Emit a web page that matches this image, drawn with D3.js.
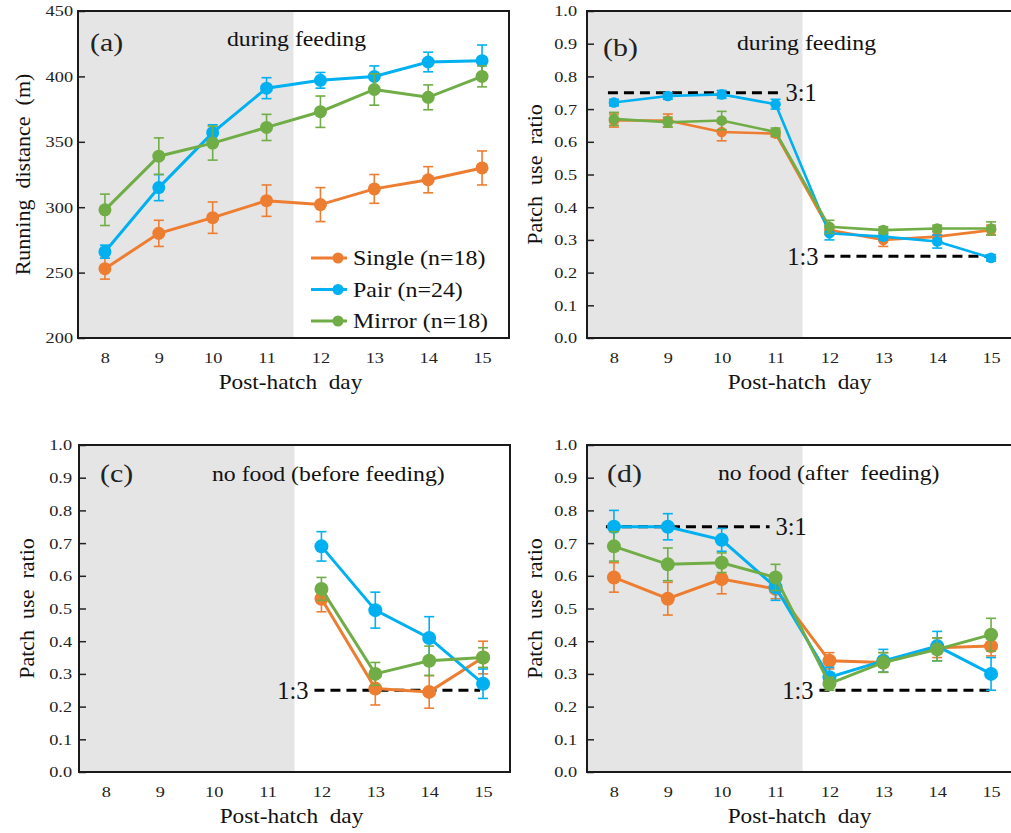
<!DOCTYPE html>
<html><head><meta charset="utf-8">
<script src="https://cdn.jsdelivr.net/npm/d3@7"></script>
<style>
html,body{margin:0;padding:0;background:#fff;overflow:hidden;}
svg{display:block;font-family:"Liberation Serif","Times New Roman",serif;}
</style></head><body>
<svg id="chart" width="1011" height="833"></svg>
<script>
// ---- data ----
const days = [8, 9, 10, 11, 12, 13, 14, 15];
const daysAfterSwitch = [12, 13, 14, 15];
const groupNames = ["Single (n=18)", "Pair (n=24)", "Mirror (n=18)"];
const groupColors = ["#ED7D31", "#00B0F0", "#70AD47"];
const distanceTicks = [200, 250, 300, 350, 400, 450];
const ratioTicks = [0, 0.1, 0.2, 0.3, 0.4, 0.5, 0.6, 0.7, 0.8, 0.9, 1.0];

// (a) running distance (m), mean ± SE
const runSingle   = [253, 280, 292, 305, 302, 314, 321, 330];
const runSingleSE = [8, 10, 12, 12, 13, 11, 10, 13];
const runPair     = [266, 315, 357, 391, 397, 400, 411, 412];
const runPairSE   = [5, 10, 6, 8, 6, 8, 7.5, 12];
const runMirror   = [298, 339, 349, 361, 373, 390, 384, 400];
const runMirrorSE = [12, 14, 13, 10, 12, 12, 9.5, 8];

// (b) patch use ratio during feeding
const feedSingle   = [0.665, 0.665, 0.63, 0.625, 0.33, 0.30, 0.31, 0.33];
const feedSingleSE = [0.02, 0.02, 0.027, 0.01, 0.015, 0.02, 0.015, 0.015];
const feedPair     = [0.72, 0.74, 0.745, 0.715, 0.32, 0.31, 0.295, 0.245];
const feedPairSE   = [0.01, 0.01, 0.012, 0.015, 0.02, 0.01, 0.02, 0.01];
const feedMirror   = [0.67, 0.66, 0.665, 0.63, 0.34, 0.33, 0.335, 0.335];
const feedMirrorSE = [0.02, 0.015, 0.028, 0.012, 0.02, 0.01, 0.01, 0.02];

// (c) no food, before feeding (days 12–15 only)
const preSingle   = [0.53, 0.255, 0.245, 0.35];
const preSingleSE = [0.04, 0.05, 0.05, 0.05];
const prePair     = [0.69, 0.495, 0.41, 0.27];
const prePairSE   = [0.045, 0.055, 0.065, 0.045];
const preMirror   = [0.56, 0.30, 0.34, 0.35];
const preMirrorSE = [0.035, 0.035, 0.045, 0.03];

// (d) no food, after feeding
const postSingle   = [0.595, 0.53, 0.59, 0.56, 0.34, 0.335, 0.38, 0.385];
const postSingleSE = [0.045, 0.05, 0.045, 0.03, 0.025, 0.03, 0.03, 0.03];
const postPair     = [0.75, 0.75, 0.71, 0.565, 0.29, 0.34, 0.385, 0.30];
const postPairSE   = [0.05, 0.04, 0.035, 0.04, 0.03, 0.035, 0.045, 0.05];
const postMirror   = [0.69, 0.635, 0.64, 0.595, 0.27, 0.335, 0.375, 0.42];
const postMirrorSE = [0.045, 0.05, 0.03, 0.04, 0.02, 0.03, 0.035, 0.05];

// preference reference levels
const ratio31 = 0.75, ratio13 = 0.25;

// ---- helpers ----
const svg = d3.select("#chart");
const W = 431, H = 327;

// widen text horizontally around its anchor point
function widen(sel, sx) {
  sel.each(function () {
    const t = d3.select(this);
    const x = +t.attr("x") || 0;
    t.attr("transform", `translate(${x * (1 - sx)},0) scale(${sx},1)`);
  });
}

function panel(cfg) {
  const g = svg.append("g").attr("transform", `translate(${cfg.left},${cfg.top})`);
  const x = d3.scalePoint().domain(days).range([0, W]).padding(0.5);
  const y = d3.scaleLinear().domain(cfg.yDomain).range([H, 0]);

  // shaded switch period, days 8–11
  const xSplit = (x(11) + x(12)) / 2;
  g.append("rect").attr("x", 0).attr("y", 0).attr("width", xSplit).attr("height", H)
    .attr("fill", "#E5E5E5");

  // axes
  const yAxis = d3.axisLeft(y).tickValues(cfg.yTicks).tickFormat(cfg.yFormat)
    .tickSizeInner(-7).tickSizeOuter(0).tickPadding(cfg.yPad);
  const ya = g.append("g").call(yAxis);
  ya.select(".domain").remove();
  ya.selectAll("line").attr("stroke", "#222").attr("stroke-width", 1.5);
  ya.selectAll("text").attr("font-size", 15.5).attr("fill", "#222")
    .attr("font-family", "Liberation Serif");
  widen(ya.selectAll("text"), 1.18);

  const xAxis = d3.axisBottom(x).tickSize(0).tickPadding(14);
  const xa = g.append("g").attr("transform", `translate(0,${H})`).call(xAxis);
  xa.select(".domain").remove();
  xa.selectAll("text").attr("font-size", 15.5).attr("fill", "#222")
    .attr("font-family", "Liberation Serif");
  widen(xa.selectAll("text"), 1.18);

  // plot frame
  g.append("rect").attr("x", 0).attr("y", 0).attr("width", W).attr("height", H)
    .attr("fill", "none").attr("stroke", "#1a1a1a").attr("stroke-width", 2);

  // axis titles
  g.append("text")
    .attr("transform", `translate(${cfg.yTitleX},${H / 2}) rotate(-90)`)
    .attr("text-anchor", "middle").attr("dominant-baseline", "central")
    .attr("font-size", 22).attr("fill", "#111").style("white-space", "pre")
    .text(cfg.yTitle);
  g.append("text")
    .attr("transform", `translate(${W / 2 - 3},${H + 51}) scale(1.06,1)`)
    .attr("text-anchor", "middle").attr("font-size", 22).attr("fill", "#111")
    .style("white-space", "pre").text("Post-hatch  day");

  // panel letter and condition
  g.append("text").attr("transform", `translate(${cfg.letterX},${cfg.letterY}) scale(1.15,1)`)
    .attr("font-size", 26).attr("fill", "#222").text(cfg.letter);
  g.append("text").attr("transform", `translate(${cfg.condX},${cfg.condY}) scale(1.08,1)`)
    .attr("font-size", 22).attr("fill", "#111").style("white-space", "pre")
    .text(cfg.cond);

  // dashed preference references
  (cfg.refs || []).forEach(r => {
    g.append("line")
      .attr("x1", x(r.from) + r.dx1).attr("x2", x(r.to) + r.dx2)
      .attr("y1", y(r.value)).attr("y2", y(r.value))
      .attr("stroke", "#000").attr("stroke-width", 2.8).attr("stroke-dasharray", "10,6");
    g.append("text").attr("x", r.labelSide === "right" ? x(r.to) + r.dx2 + 6 : x(r.from) + r.dx1 - 6)
      .attr("y", y(r.value)).attr("dy", "0.35em")
      .attr("text-anchor", r.labelSide === "right" ? "start" : "end")
      .attr("font-size", 24.5).attr("fill", "#111").text(r.label);
  });

  // series: error bars, line, markers
  cfg.series.forEach((s, i) => {
    const col = groupColors[i];
    const pts = s.days.map((d, k) => ({ d, v: s.values[k], e: s.se[k] }));
    const sg = g.append("g");
    const eb = sg.selectAll("g.eb").data(pts).enter().append("g");
    eb.append("line").attr("x1", p => x(p.d)).attr("x2", p => x(p.d))
      .attr("y1", p => y(p.v - p.e)).attr("y2", p => y(p.v + p.e));
    eb.append("line").attr("x1", p => x(p.d) - 5).attr("x2", p => x(p.d) + 5)
      .attr("y1", p => y(p.v + p.e)).attr("y2", p => y(p.v + p.e));
    eb.append("line").attr("x1", p => x(p.d) - 5).attr("x2", p => x(p.d) + 5)
      .attr("y1", p => y(p.v - p.e)).attr("y2", p => y(p.v - p.e));
    eb.selectAll("line").attr("stroke", col).attr("stroke-width", 1.6);
    sg.append("path").datum(pts)
      .attr("d", d3.line().x(p => x(p.d)).y(p => y(p.v)))
      .attr("fill", "none").attr("stroke", col).attr("stroke-width", cfg.lineW);
    sg.selectAll("circle").data(pts).enter().append("circle")
      .attr("cx", p => x(p.d)).attr("cy", p => y(p.v)).attr("r", cfg.r).attr("fill", col);
  });

  // legend
  if (cfg.legend) {
    groupNames.forEach((name, i) => {
      const ly = cfg.legend.y0 + i * cfg.legend.dy;
      const lg = g.append("g").attr("transform", `translate(${cfg.legend.x},${ly})`);
      lg.append("line").attr("x1", 0).attr("x2", 36).attr("y1", 0).attr("y2", 0)
        .attr("stroke", groupColors[i]).attr("stroke-width", 3);
      lg.append("circle").attr("cx", 27).attr("cy", 0).attr("r", 5.5).attr("fill", groupColors[i]);
      const t = lg.append("text").attr("x", 42).attr("y", 0).attr("dy", "0.35em")
        .attr("font-size", 21).attr("fill", "#111").text(name);
      widen(t, 1.14);
    });
  }
}

const fmt1 = d3.format(".1f");

panel({
  left: 78, top: 11, yDomain: [200, 450], yTicks: distanceTicks, yFormat: d3.format("d"), yPad: 5,
  yTitle: "Running  distance  (m)", yTitleX: -56,
  letter: "(a)", letterX: 12, letterY: 40, cond: "during feeding", condX: 149, condY: 35,
  lineW: 3, r: 6.5,
  series: [
    { days, values: runSingle, se: runSingleSE },
    { days, values: runPair, se: runPairSE },
    { days, values: runMirror, se: runMirrorSE }
  ],
  legend: { x: 233, y0: 247, dy: 31.5 }
});

panel({
  left: 587, top: 11, yDomain: [0, 1], yTicks: ratioTicks, yFormat: fmt1, yPad: 10,
  yTitle: "Patch  use  ratio", yTitleX: -53,
  letter: "(b)", letterX: 16, letterY: 45, cond: "during feeding", condX: 150, condY: 39,
  lineW: 2.6, r: 5.3,
  refs: [
    { value: ratio31, from: 8, to: 11, dx1: -6, dx2: 4, label: "3:1", labelSide: "right" },
    { value: ratio13, from: 12, to: 15, dx1: -5, dx2: 2, label: "1:3", labelSide: "left" }
  ],
  series: [
    { days, values: feedSingle, se: feedSingleSE },
    { days, values: feedPair, se: feedPairSE },
    { days, values: feedMirror, se: feedMirrorSE }
  ]
});

panel({
  left: 79, top: 445, yDomain: [0, 1], yTicks: ratioTicks, yFormat: fmt1, yPad: 7,
  yTitle: "Patch  use  ratio", yTitleX: -53,
  letter: "(c)", letterX: 21, letterY: 37, cond: "no food (before feeding)", condX: 133, condY: 36,
  lineW: 3, r: 7,
  refs: [
    { value: ratio13, from: 12, to: 15, dx1: -7, dx2: -3, label: "1:3", labelSide: "left" }
  ],
  series: [
    { days: daysAfterSwitch, values: preSingle, se: preSingleSE },
    { days: daysAfterSwitch, values: prePair, se: prePairSE },
    { days: daysAfterSwitch, values: preMirror, se: preMirrorSE }
  ]
});

panel({
  left: 587, top: 445, yDomain: [0, 1], yTicks: ratioTicks, yFormat: fmt1, yPad: 10,
  yTitle: "Patch  use  ratio", yTitleX: -53,
  letter: "(d)", letterX: 20, letterY: 37, cond: "no food (after  feeding)", condX: 131, condY: 35,
  lineW: 3, r: 7,
  refs: [
    { value: ratio31, from: 8, to: 11, dx1: -8, dx2: -6, label: "3:1", labelSide: "right" },
    { value: ratio13, from: 12, to: 15, dx1: -10, dx2: 2, label: "1:3", labelSide: "left" }
  ],
  series: [
    { days, values: postSingle, se: postSingleSE },
    { days, values: postPair, se: postPairSE },
    { days, values: postMirror, se: postMirrorSE }
  ]
});
</script>
</body></html>
